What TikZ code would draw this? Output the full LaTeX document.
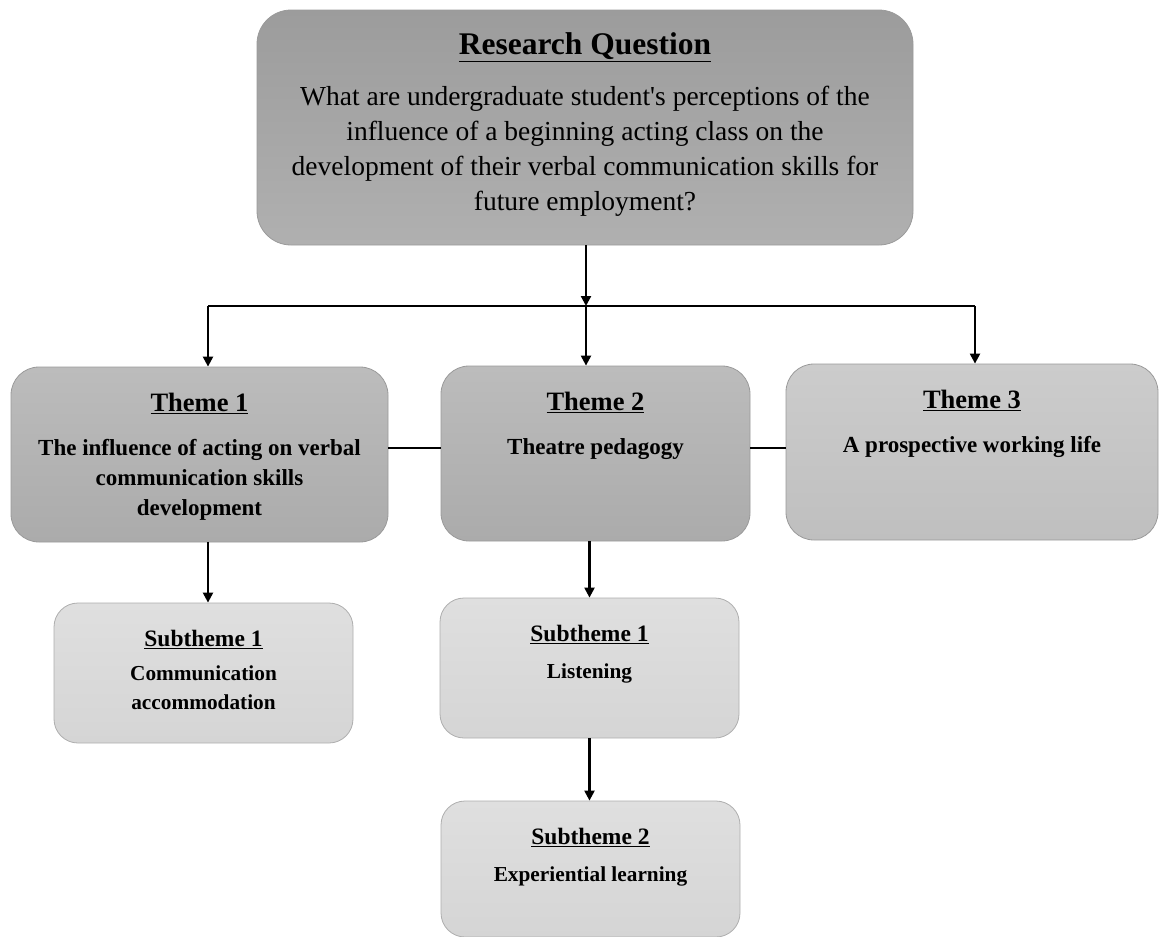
\documentclass[tikz,border=0pt]{standalone}
\usepackage{fontspec}
\setmainfont{Liberation Serif}[Ligatures=TeXOff]
\usetikzlibrary{arrows.meta}
\definecolor{rqtop}{HTML}{9C9C9C}
\definecolor{rqbot}{HTML}{B0B0B0}
\definecolor{thtop}{HTML}{BCBCBC}
\definecolor{thbot}{HTML}{ABABAB}
\definecolor{tthtop}{HTML}{CCCCCC}
\definecolor{tthbot}{HTML}{BFBFBF}
\definecolor{subtop}{HTML}{DFDFDF}
\definecolor{subbot}{HTML}{D5D5D5}
\definecolor{edgegray}{HTML}{9A9A9A}
\begin{document}
\begin{tikzpicture}[x=1pt,y=-1pt,
  rqbox/.style={draw=edgegray,line width=0.8pt,rounded corners=34pt,inner sep=0pt,top color=rqtop,bottom color=rqbot},
  themebox/.style={draw=edgegray,line width=0.8pt,rounded corners=28pt,inner sep=0pt,top color=thtop,bottom color=thbot},
  lightbox/.style={draw=edgegray,line width=0.8pt,rounded corners=28pt,inner sep=0pt,top color=tthtop,bottom color=tthbot},
  subbox/.style={draw=edgegray!80,line width=0.8pt,rounded corners=24pt,inner sep=0pt,top color=subtop,bottom color=subbot},
  conn/.style={-{Triangle[width=10pt,length=10pt]},line width=2.2pt},
  link/.style={line width=2.2pt}]
\useasboundingbox (0,0) rectangle (1160,937);
\node[rqbox] (RQ) at (585,127.5) {\parbox[c][235pt][t]{656pt}{\centering\vspace*{23pt}%
  {\fontsize{31.5}{36}\selectfont\bfseries\underline{Research Question}}\par\vspace{16pt}%
  \fontsize{27.5}{35}\selectfont What are undergraduate student's perceptions of the\\
  influence of a beginning acting class on the\\
  development of their verbal communication skills for\\
  future employment?\par}};
\node[themebox] (T1) at (199.5,454.5) {\parbox[c][175pt][t]{377pt}{\centering\vspace*{26pt}%
  {\fontsize{26.5}{30}\selectfont\bfseries\underline{Theme 1}}\par\vspace{14pt}%
  \fontsize{23}{30}\selectfont\bfseries The influence of acting on verbal\\
  communication skills\\
  development\par}};
\node[themebox] (T2) at (595.5,453.5) {\parbox[c][175pt][t]{309pt}{\centering\vspace*{26pt}%
  {\fontsize{26.5}{30}\selectfont\bfseries\underline{Theme 2}}\par\vspace{14pt}%
  \fontsize{23}{30}\selectfont\bfseries Theatre pedagogy\par}};
\node[lightbox] (T3) at (972,452) {\parbox[c][176pt][t]{372pt}{\centering\vspace*{26pt}%
  {\fontsize{26.5}{30}\selectfont\bfseries\underline{Theme 3}}\par\vspace{14pt}%
  \fontsize{23}{30}\selectfont\bfseries A prospective working life\par}};
\node[subbox] (S1) at (203.5,673) {\parbox[c][140pt][t]{299pt}{\centering\vspace*{27pt}%
  {\fontsize{23.5}{28}\selectfont\bfseries\underline{Subtheme 1}}\par\vspace{5pt}%
  \fontsize{21.3}{29}\selectfont\bfseries Communication\\
  accommodation\par}};
\node[subbox] (S2) at (589.5,668) {\parbox[c][140pt][t]{299pt}{\centering\vspace*{27pt}%
  {\fontsize{23.5}{28}\selectfont\bfseries\underline{Subtheme 1}}\par\vspace{8pt}%
  \fontsize{21.3}{29}\selectfont\bfseries Listening\par}};
\node[subbox] (S3) at (590.5,869) {\parbox[c][136pt][t]{299pt}{\centering\vspace*{27pt}%
  {\fontsize{23.5}{28}\selectfont\bfseries\underline{Subtheme 2}}\par\vspace{8pt}%
  \fontsize{21.3}{29}\selectfont\bfseries Experiential learning\par}};
% junction row
\coordinate (J) at (586,306);
\coordinate (J1) at (208,306);
\coordinate (J3) at (975,306);
\draw[conn] (RQ.south -| J) -- (J);
\draw[link] (J1) -- (J3);
\draw[conn] (J1) -- (J1 |- T1.north);
\draw[conn] (J) -- (J |- T2.north);
\draw[conn] (J3) -- (J3 |- T3.north);
% theme links
\draw[link] (T1.east |- 0,448) -- (T2.west |- 0,448);
\draw[link] (T2.east |- 0,448) -- (T3.west |- 0,448);
% subthemes
\draw[conn] (J1 |- T1.south) -- (J1 |- S1.north);
\draw[conn] (S2.north |- T2.south) -- (S2.north);
\draw[conn] (S2.south) -- (S2.south |- S3.north);
\end{tikzpicture}
\end{document}
